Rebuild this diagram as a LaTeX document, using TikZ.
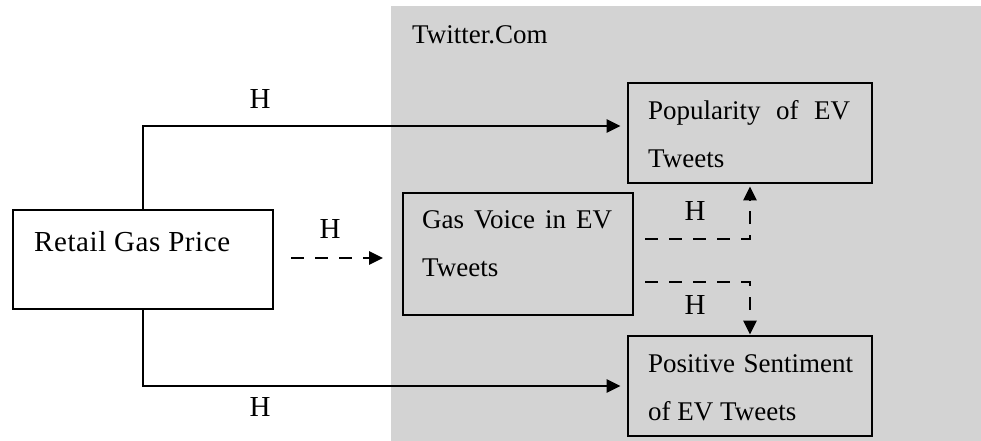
\documentclass[tikz,border=0pt]{standalone}
\usepackage{fontspec}
\setmainfont{Liberation Serif}
\usetikzlibrary{arrows.meta}
\definecolor{panelgray}{RGB}{211,211,211}
\tikzset{
  box/.style={draw=black, line width=2.8pt, rectangle, inner sep=0pt},
  txt/.style={inner sep=0pt, font=\fontsize{27}{48}\selectfont},
  para/.style={txt, align=justify, anchor=base west},
  conn/.style={line width=2.8pt, -{Triangle[length=14pt,width=13pt]}},
  dconn/.style={conn, dash pattern=on 13pt off 11pt},
  lbl/.style={inner sep=0pt, font=\fontsize{29}{34}\selectfont}
}
\begin{document}
\begin{tikzpicture}[x=1pt,y=-1pt]
  \useasboundingbox (0,0) rectangle (981,441);
  % shaded platform area
  \fill[panelgray] (391,6) rectangle (981,441);
  \node[txt, anchor=base west] (site) at (412,44) {Twitter.Com};

  % boxes
  \node[box, fill=white, minimum width=260pt, minimum height=99pt] (retail) at (143,259.5) {};
  \node[box, minimum width=230pt, minimum height=122pt] (gas) at (518,254) {};
  \node[box, minimum width=244pt, minimum height=100pt] (pop) at (750,133) {};
  \node[box, minimum width=244pt, minimum height=100pt] (pos) at (750,386) {};

  % box texts
  \node[txt, anchor=base west, font=\fontsize{29}{34}\selectfont] (retailtxt) at (34,251)
    {\addfontfeature{LetterSpace=2}Retail Gas Price};
  \node[para, text width=190pt] (gastxt) at (422,228) {Gas Voice in EV\linebreak Tweets};
  \node[para, text width=202pt] (poptxt) at (648,119) {Popularity of EV\linebreak Tweets};
  \node[para, text width=205pt] (postxt) at (648,372) {Positive Sentiment\linebreak of EV Tweets};

  % free ends of the dashed connectors
  \coordinate (rs) at (291,258);
  \coordinate (re) at (383,258);
  \coordinate (gu) at (645,239);
  \coordinate (gl) at (645,282);

  % connectors
  \draw[conn] (retail.north) |- ([yshift=7pt,xshift=-6pt]pop.west);
  \draw[conn] (retail.south) |- ([xshift=-6pt]pos.west);
  \draw[dconn] (rs) -- (re);
  \draw[dconn] (gu) -| ([yshift=-2pt]pop.south);
  \draw[dconn] (gl) -| (pos.north);

  % labels
  \node[lbl] (h1) at (260,99) {H};
  \node[lbl] (h2) at (260,407) {H};
  \node[lbl] (h3) at (330,229) {H};
  \node[lbl] (h4) at (695,211) {H};
  \node[lbl] (h5) at (695,305) {H};
\end{tikzpicture}
\end{document}
